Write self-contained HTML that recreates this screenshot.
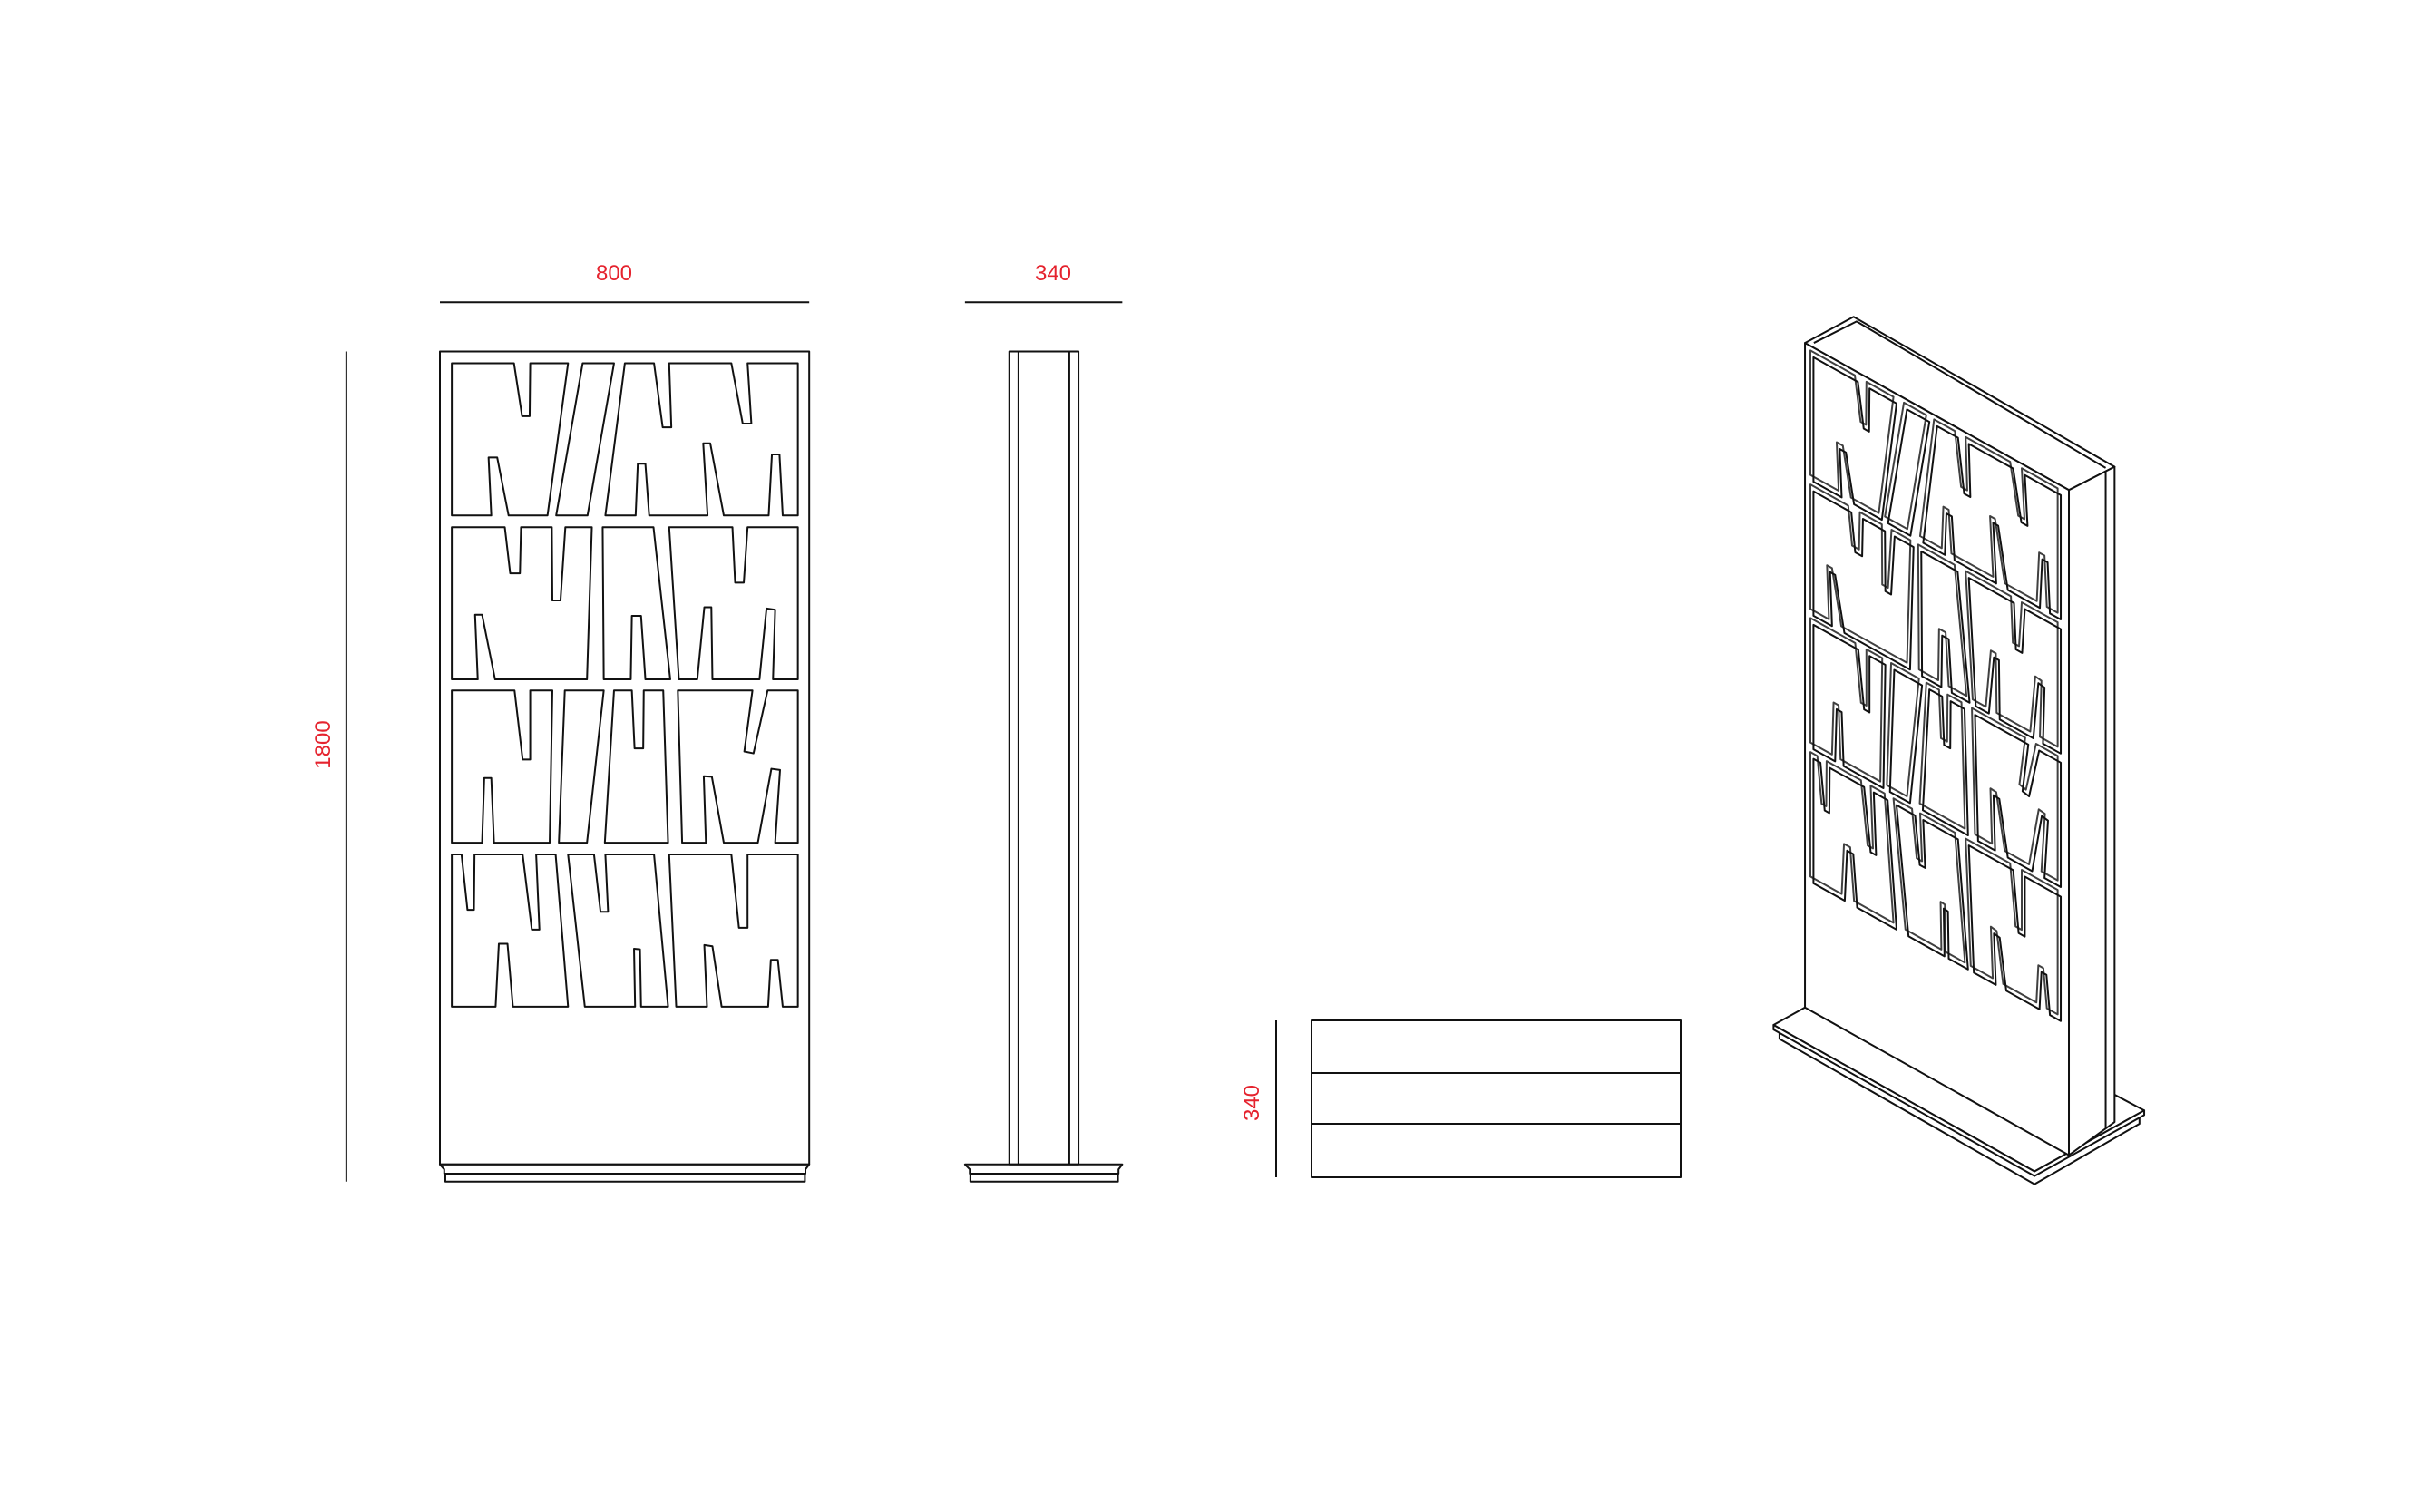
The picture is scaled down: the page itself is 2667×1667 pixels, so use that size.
<!DOCTYPE html>
<html><head><meta charset="utf-8"><style>
html,body{margin:0;padding:0;background:#fff;}
svg{display:block;}
text{font-family:"Liberation Sans",sans-serif;font-size:24px;fill:#e5232e;}
.l{fill:none;stroke:#111;stroke-width:2;stroke-linejoin:round;vector-effect:non-scaling-stroke;}
.w{fill:#fff;stroke:#111;stroke-width:2;stroke-linejoin:round;vector-effect:non-scaling-stroke;}
</style></head><body>
<svg width="2667" height="1667" viewBox="0 0 2667 1667" xmlns="http://www.w3.org/2000/svg">
<defs>
<g id="cut">
<path class="l" d="M282,192 L397,192 L412,278 L426,278 L427,192 L497,192 L459,439 L387,439 L366,345 L350,345 L355,439 L282,439 Z"/>
<path class="l" d="M524,192 L582,192 L533,439 L475,439 Z"/>
<path class="l" d="M602,192 L656,192 L672,296 L688,296 L684,192 L799,192 L820,290 L836,290 L829,192 L922,192 L922,439 L894,439 L888,340 L874,340 L868,439 L785,439 L760,322 L747,322 L755,439 L647,439 L640,355 L626,355 L622,439 L566,439 Z"/>
<path class="l" d="M282,458 L380,458 L390,533 L408,533 L410,458 L467,458 L468,577 L483,577 L492,458 L541,458 L532,705 L362,705 L338,600 L325,600 L330,705 L282,705 Z"/>
<path class="l" d="M561,458 L655,458 L686,705 L640,705 L632,602 L615,602 L613,705 L563,705 Z"/>
<path class="l" d="M684,458 L801,458 L806,548 L822,548 L829,458 L922,458 L922,705 L876,705 L880,592 L864,590 L851,705 L764,705 L762,588 L749,588 L736,705 L702,705 Z"/>
<path class="l" d="M282,723 L398,723 L413,835 L427,835 L427,723 L468,723 L463,970 L360,970 L355,865 L342,865 L338,970 L282,970 Z"/>
<path class="l" d="M491,723 L563,723 L532,970 L480,970 Z"/>
<path class="l" d="M582,723 L615,723 L620,817 L636,817 L637,723 L673,723 L682,970 L565,970 Z"/>
<path class="l" d="M700,723 L838,723 L823,822 L840,825 L866,723 L922,723 L922,970 L880,970 L889,852 L873,850 L848,970 L785,970 L763,863 L748,862 L752,970 L708,970 Z"/>
<path class="l" d="M282,989 L300,989 L311,1079 L323,1079 L324,989 L413,989 L430,1111 L444,1111 L438,989 L474,989 L497,1236 L395,1236 L385,1134 L369,1134 L363,1236 L282,1236 Z"/>
<path class="l" d="M497,989 L545,989 L557,1082 L571,1082 L566,989 L656,989 L682,1236 L632,1236 L630,1143 L619,1142 L621,1236 L528,1236 Z"/>
<path class="l" d="M684,989 L799,989 L813,1108 L829,1108 L829,989 L922,989 L922,1236 L894,1236 L885,1160 L872,1160 L867,1236 L781,1236 L764,1138 L749,1136 L754,1236 L697,1236 Z"/>
</g>
</defs>

<text x="677" y="309" text-anchor="middle">800</text>
<text x="1161" y="309" text-anchor="middle">340</text>
<text transform="translate(364,821) rotate(-90)" text-anchor="middle">1800</text>
<text transform="translate(1388,1216) rotate(-90)" text-anchor="middle">340</text>

<g transform="matrix(0.59616,0,0,0.67948,330,270)">
  <line class="l" x1="260" y1="93" x2="943" y2="93"/>
  <line class="l" x1="87" y1="173" x2="87" y2="1520"/>
  <rect class="l" x="260" y="173" width="683" height="1319"/>
  <path class="l" d="M260,1492 L943,1492 L936,1500 L936,1507 L268,1507 L268,1500 Z"/>
  <rect class="l" x="270" y="1507" width="665" height="13"/>
  <use href="#cut"/>
  <line class="l" x1="1231" y1="93" x2="1522" y2="93"/>
  <rect class="l" x="1313" y="173" width="128" height="1319"/>
  <line class="l" x1="1330" y1="173" x2="1330" y2="1492"/>
  <line class="l" x1="1424" y1="173" x2="1424" y2="1492"/>
  <path class="l" d="M1231,1492 L1522,1492 L1515,1500 L1515,1507 L1240,1507 L1240,1500 Z"/>
  <rect class="l" x="1241" y="1507" width="273" height="13"/>
</g>

<rect class="l" x="1446" y="1125" width="407" height="173"/>
<line class="l" x1="1446" y1="1183" x2="1853" y2="1183"/>
<line class="l" x1="1446" y1="1239" x2="1853" y2="1239"/>
<line class="l" x1="1407" y1="1125" x2="1407" y2="1298"/>

<g transform="matrix(0.65385,0,0,0.64103,1380,330)">
  <path class="w" d="M890,1260 L890,1272 L1320,1522 L1497,1418 L1497,1405 Z"/>
  <path class="w" d="M880,1248 L933,1218 L1455,1368 L1505,1395 L1320,1500 Z"/>
  <path class="w" d="M880,1248 L880,1256 L1320,1508 L1505,1403 L1505,1395 L1320,1500 Z"/>
  <path class="w" d="M933,75 L1015,30 L1455,288 L1378,328 Z"/>
  <path class="l" d="M948,75 L1020,38 L1440,290"/>
  <path class="w" d="M1378,328 L1455,288 L1455,1415 L1378,1472 Z"/>
  <line class="l" x1="1440" y1="296" x2="1440" y2="1426"/>
  <path class="w" d="M933,75 L1378,328 L1378,1472 L933,1218 Z"/>
  <g transform="matrix(0.6515,0.3704,0,0.8666,763.6,-171.2)">
    <g transform="translate(-8,-10)" opacity="0.8"><use href="#cut"/></g>
    <use href="#cut"/>
  </g>
</g>
</svg>
</body></html>
